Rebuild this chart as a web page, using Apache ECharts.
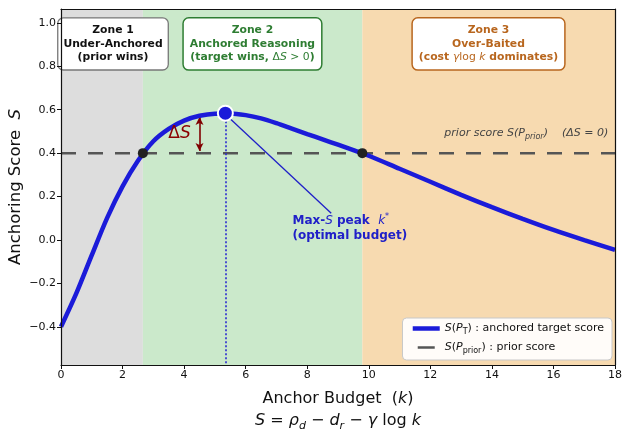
<!DOCTYPE html>
<html><head><meta charset="utf-8">
<script src="https://cdn.jsdelivr.net/npm/echarts@6/dist/echarts.min.js"></script>
<style>html,body{margin:0;padding:0;background:#fff}#c{width:622px;height:430px}</style>
</head><body><div id="c"></div>
<script>
// ---- data ----
const budgetK = [0, 0.5, 1.0, 1.5, 2.0, 2.5, 3.0, 3.5, 4.0, 4.5, 5.0, 5.5, 6.0, 6.5, 7.0, 7.5, 8.0, 8.5, 9.0, 9.5, 10, 11, 12, 13, 14, 15, 16, 17, 18];
const scoreS  = [-0.40, -0.245, -0.07, 0.102, 0.247, 0.365, 0.455, 0.512, 0.550, 0.572, 0.582, 0.583, 0.575, 0.560, 0.538, 0.513, 0.488, 0.4635, 0.439, 0.414, 0.388, 0.328, 0.268, 0.208, 0.151, 0.097, 0.046, -0.001, -0.046];
const priorScore = 0.4;
const crossK = [2.66, 9.79];
const peakK = 5.34, peakS = 0.584;
const zoneEdges = [0, 2.66, 9.79, 18];
const xTicks = [0, 2, 4, 6, 8, 10, 12, 14, 16, 18];
const yTicks = [-0.4, -0.2, 0.0, 0.2, 0.4, 0.6, 0.8, 1.0];
const xMin = 0, xMax = 18, yMin = -0.576, yMax = 1.064;

const FONT = 'DejaVu Sans';
const BLUE = '#1b1bd9';
const chart = echarts.init(document.getElementById('c'), null, {renderer: 'canvas'});

const fmtY = v => (v < 0 ? '\u2212' : '') + Math.abs(v).toFixed(1);
const ZF = 10.8, ZL = 13.6;

const option = {
  animation: false,
  textStyle: {fontFamily: FONT},
  grid: {left: 61, right: 7, top: 9, bottom: 65, containLabel: false, outerBoundsMode: 'none'},
  xAxis: [{
    type: 'value', min: xMin, max: xMax, interval: 2, z: 10,
    axisLine: {show: true, onZero: false, lineStyle: {color: '#111', width: 1.2}},
    axisTick: {show: true, length: 4, lineStyle: {color: '#111'}},
    axisLabel: {fontSize: 11, color: '#111', margin: 5, fontFamily: FONT},
    splitLine: {show: false},
    name: '{n|Anchor Budget  (}{i|k}{n|)}\n{i|S}{n| = }{i|ρ}{sub|d}{n| \u2212 }{i|d}{sub|r}{n| \u2212 }{i|γ}{n| log }{i|k}',
    nameLocation: 'middle', nameGap: 23,
    nameTextStyle: {
      color: '#111', fontFamily: FONT,
      rich: {
        n: {fontSize: 16, lineHeight: 22, fontFamily: FONT, color: '#111'},
        i: {fontSize: 16, lineHeight: 22, fontStyle: 'italic', fontFamily: FONT, color: '#111'},
        sub: {fontSize: 11, lineHeight: 14, verticalAlign: 'bottom', fontStyle: 'italic', fontFamily: FONT, color: '#111'}
      }
    }
  }, {
    type: 'value', position: 'top', min: xMin, max: xMax, interval: 2, z: 10,
    axisLine: {show: true, onZero: false, lineStyle: {color: '#111', width: 1.2}},
    axisTick: {show: false}, axisLabel: {show: false}, splitLine: {show: false}
  }],
  yAxis: [{
    type: 'value', min: yMin, max: yMax, z: 10,
    axisLine: {show: true, onZero: false, lineStyle: {color: '#111', width: 1.2}},
    axisTick: {show: true, length: 4, customValues: yTicks, lineStyle: {color: '#111'}},
    axisLabel: {fontSize: 11, color: '#111', margin: 5, customValues: yTicks, formatter: fmtY, fontFamily: FONT},
    splitLine: {show: false},
    name: '{n|Anchoring Score  }{i|S}',
    nameLocation: 'middle', nameGap: 37, nameMoveOverlap: false,
    nameTextStyle: {
      rich: {
        n: {fontSize: 16.5, fontFamily: FONT, color: '#111'},
        i: {fontSize: 16.5, fontStyle: 'italic', fontFamily: FONT, color: '#111'}
      }
    }
  }, {
    type: 'value', position: 'right', min: yMin, max: yMax, z: 10,
    axisLine: {show: true, onZero: false, lineStyle: {color: '#111', width: 1.2}},
    axisTick: {show: false}, axisLabel: {show: false}, splitLine: {show: false}
  }],
  legend: {
    orient: 'vertical', right: 10, bottom: 70,
    backgroundColor: 'rgba(255,255,255,0.92)', borderColor: '#c8c8c8', borderWidth: 1, borderRadius: 4,
    padding: [5, 8], itemGap: 6, itemWidth: 27, itemHeight: 10,
    itemStyle: {opacity: 0},
    data: [
      {name: 'target', itemStyle: {opacity: 0}, lineStyle: {width: 4.5, color: BLUE, type: 'solid'}},
      {name: 'prior', itemStyle: {opacity: 0}, lineStyle: {type: [0, 5, 17, 60], width: 2.5, color: '#555'}}
    ],
    formatter: name => name === 'target'
      ? '{i|S}{r|(}{i|P}{sub|T}{r|) : anchored target score}'
      : '{i|S}{r|(}{i|P}{sub|prior}{r|) : prior score}',
    textStyle: {
      fontSize: 11, color: '#111',
      rich: {
        r: {fontSize: 11, lineHeight: 15, fontFamily: FONT, color: '#111'},
        i: {fontSize: 11, lineHeight: 15, fontStyle: 'italic', fontFamily: FONT, color: '#111'},
        sub: {fontSize: 8, lineHeight: 10, verticalAlign: 'bottom', fontFamily: FONT, color: '#111'}
      }
    }
  },
  series: [
    {
      type: 'line', name: 'zones', data: [], z: 1, silent: true,
      markArea: {
        silent: true,
        data: [
          [{xAxis: zoneEdges[0], itemStyle: {color: '#dddddd'}}, {xAxis: zoneEdges[1]}],
          [{xAxis: zoneEdges[1], itemStyle: {color: '#cbe9cb'}}, {xAxis: zoneEdges[2]}],
          [{xAxis: zoneEdges[2], itemStyle: {color: '#f7dab0'}}, {xAxis: zoneEdges[3]}]
        ]
      }
    },
    {
      type: 'line', name: 'prior', z: 4, symbol: 'none', silent: true,
      data: [[xMin, priorScore], [xMax, priorScore]],
      itemStyle: {color: '#555'},
      lineStyle: {color: '#555', width: 2.5, type: [15, 12]}
    },
    {
      type: 'line', name: 'target', z: 5, symbol: 'none', showSymbol: false, smooth: 0.3, silent: true,
      data: budgetK.map((k, i) => [k, scoreS[i]]),
      itemStyle: {color: BLUE},
      lineStyle: {color: BLUE, width: 4.5}
    },
    {
      type: 'line', name: 'guides', data: [], z: 6, silent: true,
      markLine: {
        silent: true, symbol: 'none', label: {show: false},
        data: [
          [{coord: [peakK, peakS], lineStyle: {color: '#2a2ad0', width: 1.6, type: [2, 2]}}, {coord: [peakK, yMin]}],
          [{coord: [5.47, 0.562], lineStyle: {color: '#2020c8', width: 1.3, type: 'solid'}}, {coord: [8.78, 0.123]}],
          [{coord: [4.5, 0.41], symbol: 'arrow', symbolSize: [6, 8], lineStyle: {color: '#800000', width: 1.6, type: 'solid'}},
           {coord: [4.5, 0.566], symbol: 'arrow', symbolSize: [6, 8]}]
        ]
      }
    },
    {
      type: 'scatter', name: 'cross', z: 7, silent: true, symbolSize: 10,
      data: crossK.map(k => [k, priorScore]),
      itemStyle: {color: '#222', opacity: 1}
    },
    {
      type: 'scatter', name: 'peak', z: 8, silent: true, symbolSize: 15,
      data: [[peakK, peakS]],
      itemStyle: {color: BLUE, borderColor: '#fff', borderWidth: 2, opacity: 1}
    },
    {
      type: 'scatter', name: 'notes', z: 9, silent: true, symbolSize: 0.1,
      itemStyle: {color: 'rgba(0,0,0,0)', opacity: 1},
      data: [
        {value: [1.69, 0.903], label: {
          show: true, position: 'inside', align: 'center', verticalAlign: 'middle',
          formatter: 'Zone 1\nUnder-Anchored\n(prior wins)',
          fontSize: ZF, fontWeight: 'bold', color: '#111', lineHeight: ZL, fontFamily: FONT,
          backgroundColor: '#fff', borderColor: '#777', borderWidth: 1.3, borderRadius: 5, padding: [5, 5]
        }},
        {value: [6.22, 0.903], label: {
          show: true, position: 'inside', align: 'center', verticalAlign: 'middle',
          formatter: '{b|Zone 2}\n{b|Anchored Reasoning}\n{b|(target wins, }{r|Δ}{i|S}{r| > 0}{b|)}',
          backgroundColor: '#fff', borderColor: '#2e7d32', borderWidth: 1.5, borderRadius: 5, padding: [5, 6],
          rich: {
            b: {fontSize: ZF, fontWeight: 'bold', color: '#2e7d32', lineHeight: ZL, fontFamily: FONT},
            r: {fontSize: ZF, color: '#2e7d32', lineHeight: ZL, fontFamily: FONT},
            i: {fontSize: ZF, fontStyle: 'italic', color: '#2e7d32', lineHeight: ZL, fontFamily: FONT}
          }
        }},
        {value: [13.89, 0.903], label: {
          show: true, position: 'inside', align: 'center', verticalAlign: 'middle',
          formatter: '{b|Zone 3}\n{b|Over-Baited}\n{b|(cost }{i|γ}{r|log}{i| k}{b| dominates)}',
          backgroundColor: '#fff', borderColor: '#b8661e', borderWidth: 1.5, borderRadius: 5, padding: [5, 6],
          rich: {
            b: {fontSize: ZF, fontWeight: 'bold', color: '#b8661e', lineHeight: ZL, fontFamily: FONT},
            r: {fontSize: ZF, color: '#b8661e', lineHeight: ZL, fontFamily: FONT},
            i: {fontSize: ZF, fontStyle: 'italic', color: '#b8661e', lineHeight: ZL, fontFamily: FONT}
          }
        }},
        {value: [17.78, 0.493], label: {
          show: true, position: 'inside', align: 'right', verticalAlign: 'middle',
          formatter: '{t|prior score S(P}{s|prior}{t|)    (ΔS = 0)}',
          rich: {
            t: {fontSize: 11, fontStyle: 'italic', color: '#444', lineHeight: 15, fontFamily: FONT},
            s: {fontSize: 8, fontStyle: 'italic', color: '#444', lineHeight: 10, verticalAlign: 'bottom', fontFamily: FONT}
          }
        }},
        {value: [7.52, 0.055], label: {
          show: true, position: 'inside', align: 'left', verticalAlign: 'middle',
          formatter: '{b|Max-}{i|S}{b| peak  }{i|k}{sup|*}\n{b|(optimal budget)}',
          rich: {
            b: {fontSize: 12, fontWeight: 'bold', color: '#2020c8', lineHeight: 15, fontFamily: FONT},
            i: {fontSize: 12, fontStyle: 'italic', color: '#2020c8', lineHeight: 15, fontFamily: FONT},
            sup: {fontSize: 8, color: '#2020c8', lineHeight: 10, verticalAlign: 'top', fontFamily: FONT}
          }
        }},
        {value: [3.85, 0.488], label: {
          show: true, position: 'inside', align: 'center', verticalAlign: 'middle',
          formatter: '{r|Δ}{i|S}',
          rich: {
            r: {fontSize: 17, color: '#8b0000', fontFamily: FONT},
            i: {fontSize: 17, fontStyle: 'italic', color: '#8b0000', fontFamily: FONT}
          }
        }}
      ]
    }
  ]
};
chart.setOption(option);
</script>
</body></html>
